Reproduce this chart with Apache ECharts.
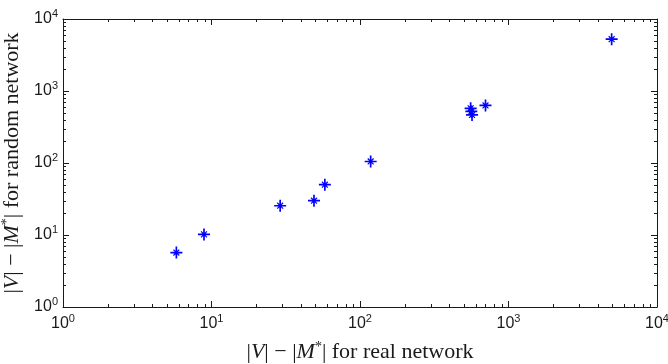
<!DOCTYPE html>
<html>
<head>
<meta charset="utf-8">
<script src="https://cdn.jsdelivr.net/npm/echarts@6/dist/echarts.min.js"></script>
<style>
  html, body { margin: 0; padding: 0; background: #fff; }
  #chart { width: 668px; height: 364px; }
</style>
</head>
<body>
<div id="chart"></div>
<script>
// |V| - |M*| values
const realNetwork   = [5.8, 8.9, 29, 49, 58, 118, 556, 562, 568, 700, 4950];
const randomNetwork = [5.7, 10.2, 25.5, 30, 50, 105, 575, 520, 465, 630, 5250];

const axisMin = 1;
const axisMax = 10000;
const tickExponents = ["0", "1", "2", "3", "4"];

// minor ticks at 2..9 x 10^k
const minorTicks = [];
for (let k = 0; k < 4; k++) {
  for (let m = 2; m <= 9; m++) {
    minorTicks.push([m * Math.pow(10, k), 0]);
    minorTicks.push([m * Math.pow(10, k), 1]);
  }
}

const ink = "#1a1a1a";
const sans = "Liberation Sans, Arial, sans-serif";
const serif = "Liberation Serif, Times New Roman, serif";
const starPath = "path://M0 8.6H20V11.4H0Z M8.6 0H11.4V20H8.6Z " +
  "M4.4 5.8L5.8 4.4L15.6 14.2L14.2 15.6Z M14.2 4.4L15.6 5.8L5.8 15.6L4.4 14.2Z " +
  "M7.2 7.2H12.8V12.8H7.2Z";

const tickLabel = {
  color: ink,
  formatter: (v) => "{b|10}{e|" + tickExponents[Math.round(Math.log10(v))] + "}",
  rich: {
    b: { fontSize: 16, fontFamily: sans, color: ink },
    e: { fontSize: 11, fontFamily: sans, color: ink, padding: [0, 0, 10, 0] },
  },
};

const nameRich = {
  n: { fontSize: 22, fontFamily: serif, color: ink },
  i: { fontSize: 22, fontFamily: serif, fontStyle: "italic", color: ink },
  s: { fontSize: 14, fontFamily: serif, color: ink, padding: [0, 0, 10, 0] },
};

function logAxis(extra) {
  return Object.assign({
    type: "log",
    logBase: 10,
    min: axisMin,
    max: axisMax,
    axisLine: { show: true, onZero: false, lineStyle: { color: ink, width: 1 } },
    axisTick: { show: true, inside: true, length: 6, lineStyle: { color: ink } },
    splitLine: { show: false },
    minorTick: { show: false },
  }, extra);
}

const chart = echarts.init(document.getElementById("chart"));

chart.setOption({
  animation: false,
  backgroundColor: "#fff",
  grid: { left: 63, right: 11, top: 19, bottom: 57, containLabel: false, outerBoundsMode: "none" },
  xAxis: [
    logAxis({
      position: "bottom",
      axisLabel: Object.assign({ margin: 6 }, tickLabel),
      name: "{n||}{i|V}{n|| − |}{i|M}{s|*}{n|| for real network}",
      nameLocation: "middle",
      nameGap: 33,
      nameTextStyle: { rich: nameRich },
    }),
    logAxis({ position: "top", axisLabel: { show: false } }),
  ],
  yAxis: [
    logAxis({
      position: "left",
      axisLabel: Object.assign({ margin: 5 }, tickLabel),
      name: "{n||}{i|V}{n|| − |}{i|M}{s|*}{n|| for random network}",
      nameLocation: "middle",
      nameRotate: 90,
      nameGap: 37,
      nameTextStyle: { rich: nameRich },
    }),
    logAxis({ position: "right", axisLabel: { show: false } }),
  ],
  series: [
    {
      type: "custom",
      silent: true,
      data: minorTicks,
      renderItem: (params, api) => {
        const v = api.value(0);
        const st = { stroke: ink, lineWidth: 1 };
        if (api.value(1) === 0) {
          const b = api.coord([v, axisMin]);
          const t = api.coord([v, axisMax]);
          const x = Math.round(b[0]) + 0.5;
          return { type: "group", children: [
            { type: "line", shape: { x1: x, y1: b[1], x2: x, y2: b[1] - 3 }, style: st },
            { type: "line", shape: { x1: x, y1: t[1], x2: x, y2: t[1] + 3 }, style: st },
          ] };
        }
        const l = api.coord([axisMin, v]);
        const r = api.coord([axisMax, v]);
        const y = Math.round(l[1]) + 0.5;
        return { type: "group", children: [
          { type: "line", shape: { x1: l[0], y1: y, x2: l[0] + 3, y2: y }, style: st },
          { type: "line", shape: { x1: r[0], y1: y, x2: r[0] - 3, y2: y }, style: st },
        ] };
      },
    },
    {
      type: "scatter",
      symbol: starPath,
      symbolSize: 12,
      itemStyle: { color: "#0000ff", opacity: 1 },
      data: realNetwork.map((x, i) => [x, randomNetwork[i]]),
    },
  ],
});
</script>
</body>
</html>
